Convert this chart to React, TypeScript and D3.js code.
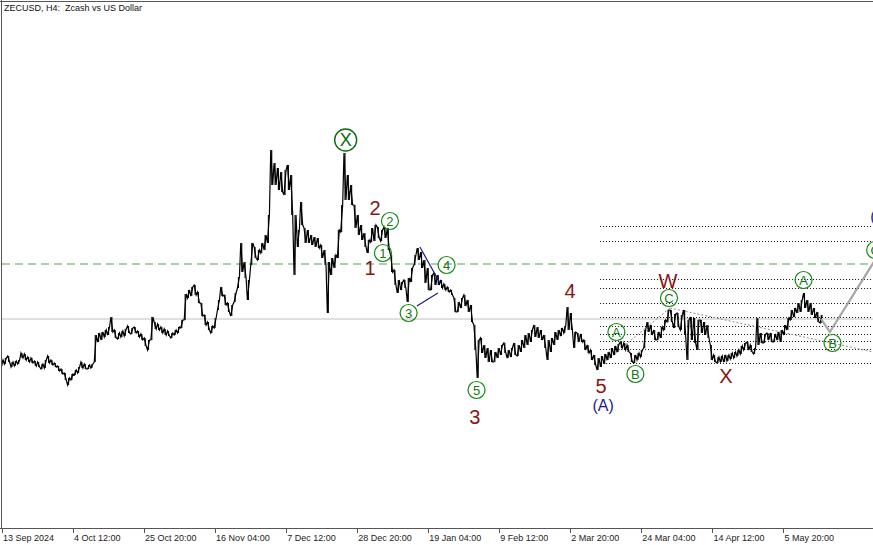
import * as d3 from 'd3';

const START = Date.UTC(2024, 8, 13, 4);
const DAY = 864e5;
const W = 873;
const H = 545;

const tickLabels = [
  '13 Sep 2024', '4 Oct 12:00', '25 Oct 20:00', '16 Nov 04:00', '7 Dec 12:00', '28 Dec 20:00',
  '19 Jan 04:00', '9 Feb 12:00', '2 Mar 20:00', '24 Mar 04:00', '14 Apr 12:00', '5 May 20:00'
];

const highs = [
  33.6, 34.0, 34.4, 33.2, 33.4, 33.6, 35.0, 34.8, 34.2, 34.0,
  33.4, 33.2, 32.8, 33.6, 34.4, 33.6, 33.0, 32.4, 31.8, 31.0,
  30.0, 30.8, 31.6, 32.2, 33.2, 32.8, 32.6, 32.8, 38.6, 39.0,
  39.2, 39.6, 40.2, 42.2, 39.6, 39.0, 39.4, 39.8, 40.4, 40.0,
  40.2, 39.4, 38.8, 38.0, 37.6, 42.2, 41.2, 40.8, 40.2, 39.8,
  39.4, 39.0, 39.6, 40.2, 41.6, 46.8, 47.6, 48.2, 48.6, 47.2,
  45.0, 42.6, 41.2, 40.4, 42.0, 45.6, 48.2, 46.6, 45.0, 44.6,
  47.0, 50.2, 57.0, 53.2, 49.6, 57.0, 56.2, 55.6, 57.0, 58.6,
  62.6, 75.6, 73.0, 72.0, 71.2, 71.6, 72.6, 70.6, 62.6, 59.6,
  65.2, 60.0, 59.6, 58.6, 58.2, 58.0, 56.6, 55.6, 53.2, 54.0,
  54.6, 59.6, 64.6, 75.0, 70.6, 68.6, 64.6, 62.6, 60.6, 59.0,
  57.6, 60.0, 60.6, 60.2, 59.6, 60.2, 60.0, 54.6, 51.6, 49.6,
  49.2, 49.6, 50.0, 52.0, 54.6, 56.0, 55.2, 53.6, 52.0, 50.6,
  51.0, 50.6, 49.6, 48.8, 48.2, 47.6, 46.0, 45.2, 46.0, 46.6,
  45.6, 44.6, 40.6, 37.6, 38.0, 36.6, 36.0, 35.6, 35.2, 36.0,
  36.6, 37.0, 35.6, 36.0, 37.0, 36.6, 37.6, 38.6, 39.0, 39.6,
  40.6, 40.2, 39.6, 38.6, 37.6, 38.0, 39.2, 39.6, 40.0, 40.4,
  44.2, 43.0, 39.2, 39.0, 38.8, 37.6, 36.6, 35.6, 34.6, 34.0,
  34.4, 34.8, 35.2, 36.0, 36.4, 36.8, 37.2, 37.0, 36.6, 35.0,
  34.6, 35.0, 35.6, 39.6, 41.2, 40.6, 39.6, 39.2, 40.2, 41.6,
  43.6, 43.6, 42.8, 43.0, 42.6, 43.6, 41.6, 42.2, 42.0, 41.6,
  41.6, 41.2, 40.6, 36.6, 34.6, 34.2, 34.4, 34.6, 34.6, 35.0,
  35.2, 35.6, 36.4, 37.0, 37.2, 36.6, 36.0, 42.0, 39.0, 38.8,
  39.0, 39.0, 38.8, 39.2, 39.6, 40.6, 42.0, 43.6, 44.0, 45.0,
  45.6, 47.0, 45.6, 45.0, 44.0, 43.2, 42.6
];

const lows = [
  32.4, 32.8, 33.2, 32.2, 32.4, 32.8, 34.0, 33.6, 33.2, 33.0,
  32.4, 32.2, 31.8, 32.0, 33.0, 32.6, 32.2, 31.4, 30.8, 29.6,
  28.6, 29.6, 30.6, 31.0, 32.0, 31.8, 31.8, 32.0, 33.2, 37.2,
  37.6, 38.2, 38.6, 39.2, 38.0, 37.8, 38.2, 38.4, 39.0, 38.8,
  39.0, 38.2, 37.6, 36.4, 35.6, 37.6, 39.8, 39.6, 39.0, 38.6,
  38.4, 38.0, 38.6, 39.0, 40.0, 41.6, 46.0, 46.4, 46.6, 45.0,
  42.4, 40.6, 39.6, 39.0, 40.0, 43.6, 46.4, 44.6, 43.2, 42.4,
  45.2, 48.0, 51.2, 50.0, 45.6, 52.6, 54.0, 53.6, 55.0, 55.6,
  57.0, 68.6, 68.6, 67.6, 67.2, 66.6, 67.6, 62.6, 50.6, 56.2,
  60.6, 57.0, 57.0, 56.6, 56.2, 56.0, 54.0, 52.6, 43.0, 50.6,
  52.0, 54.0, 59.2, 65.6, 65.6, 64.6, 60.0, 58.6, 57.6, 56.2,
  55.0, 57.2, 57.4, 58.0, 57.4, 58.0, 55.6, 51.2, 48.6, 47.0,
  47.6, 48.0, 45.2, 49.2, 52.6, 53.6, 52.0, 49.0, 47.6, 47.6,
  48.6, 48.6, 48.0, 47.6, 47.2, 46.6, 43.2, 43.2, 44.0, 44.4,
  43.2, 41.2, 35.6, 30.0, 35.0, 34.0, 33.2, 33.2, 33.2, 34.0,
  34.6, 35.0, 34.0, 34.2, 34.6, 34.4, 35.2, 36.0, 36.6, 37.2,
  38.2, 38.0, 37.6, 36.0, 33.6, 35.2, 36.6, 37.6, 38.4, 39.0,
  39.6, 39.6, 36.0, 37.2, 37.2, 35.6, 35.0, 33.6, 32.6, 31.6,
  32.2, 32.8, 33.6, 34.0, 34.6, 35.2, 36.0, 35.6, 35.2, 33.2,
  33.0, 33.6, 34.2, 36.0, 39.2, 38.6, 37.6, 37.6, 38.0, 39.6,
  41.2, 41.2, 40.0, 40.2, 39.6, 38.6, 33.6, 37.6, 37.0, 35.6,
  39.0, 38.6, 38.0, 33.6, 33.2, 33.0, 33.2, 33.2, 33.4, 33.8,
  34.0, 34.4, 34.8, 35.6, 35.6, 35.2, 34.8, 36.6, 37.0, 37.0,
  37.6, 37.2, 37.2, 37.6, 37.2, 38.6, 39.6, 41.6, 42.2, 43.0,
  43.2, 44.0, 43.2, 42.6, 42.0, 41.2, 41.0
];

// horizontal levels
const greenLevel = 52.8;
const bidLevel = 41.8;
const fibLevels = [60.4, 57.4, 49.8, 48.0, 45.0, 42.2, 40.4, 38.8, 37.4, 35.8, 33.0];
const fibStartDay = 179.6;

// projected path (grey)
const projDays = [246, 248.6, 263.7];
const projPrices = [41.8, 39.2, 55.2];

// dotted trend lines [day, price, day, price]
const trendLines = [
  [178.7, 32.0, 200.6, 44.0],
  [200.6, 44.0, 261.6, 35.2]
];
// blue triangle lines
const wedgeLines = [
  [125.5, 56.2, 131.5, 49.0],
  [124.6, 44.4, 130.9, 47.0]
];

// wave labels (day, price)
const redLabels = [
  { t: '2', d: 112.0, p: 64.0 },
  { t: '1', d: 110.5, p: 52.0 },
  { t: '3', d: 142.0, p: 22.2 },
  { t: '4', d: 170.6, p: 47.4 },
  { t: '5', d: 179.9, p: 28.4 },
  { t: 'W', d: 200.0, p: 49.4 },
  { t: 'X', d: 217.4, p: 30.4 }
];
const blueLabels = [
  { t: '(A)', d: 180.5, p: 24.6 },
  { t: '(B)', d: 263.9, p: 62.4 }
];
const circled = [
  { t: '1', d: 114.4, p: 55.0 },
  { t: '2', d: 116.5, p: 61.4 },
  { t: '3', d: 122.1, p: 43.0 },
  { t: '4', d: 133.5, p: 52.6 },
  { t: '5', d: 142.5, p: 27.6 },
  { t: 'A', d: 184.5, p: 39.2 },
  { t: 'B', d: 190.2, p: 30.8 },
  { t: 'C', d: 200.3, p: 46.0 },
  { t: 'A', d: 240.7, p: 49.6 },
  { t: 'B', d: 249.4, p: 37.0 },
  { t: 'C', d: 262.2, p: 55.6 }
];
const bigCircled = { t: 'X', d: 103.2, p: 77.6 };

const dayToDate = (d: number) => new Date(START + d * DAY);

export default function App() {
  const x = d3
    .scaleUtc()
    .domain([dayToDate(0), dayToDate(261.56)])
    .range([2, W]);
  const y = d3.scaleLinear().domain([0, 102.8]).range([528, 14]);
  const xd = (d: number) => x(dayToDate(d));

  // zigzag path through each day's range
  const pts: [number, number][] = [];
  highs.forEach((hi, i) => {
    const lo = lows[i];
    const mid = (hi + lo) / 2;
    const next = i < highs.length - 1 ? (highs[i + 1] + lows[i + 1]) / 2 : mid;
    const cx = xd(i);
    if (next >= mid) {
      pts.push([cx - 1, y(lo)], [cx + 1, y(hi)]);
    } else {
      pts.push([cx - 1, y(hi)], [cx + 1, y(lo)]);
    }
  });
  const line = d3.line();

  const proj = d3
    .line<number>()
    .x((_, i) => xd(projDays[i]))
    .y((p) => y(p));

  const tickDates = tickLabels.map((_, k) => new Date(START + k * 128 * 4 * 3600e3));

  const font = '"Liberation Sans", Arial, sans-serif';

  return (
    <svg
      width={W}
      height={H}
      style={{ position: 'absolute', left: 0, top: 0, background: '#fff' }}
      fontFamily={font}
    >
      <defs>
        <clipPath id='plot'>
          <rect x={2} y={2} width={W - 2} height={526} />
        </clipPath>
      </defs>
      <rect x={0} y={0} width={W} height={H} fill='#fff' />

      <g clipPath='url(#plot)'>
        {/* bid line */}
        <line x1={2} x2={W} y1={y(bidLevel)} y2={y(bidLevel)} stroke='#c0c0c0' strokeWidth={1} />
        {/* fib dotted levels */}
        {fibLevels.map((lv, i) => (
          <line
            key={i}
            x1={xd(fibStartDay)}
            x2={W}
            y1={Math.round(y(lv)) + 0.5}
            y2={Math.round(y(lv)) + 0.5}
            stroke='#111'
            strokeWidth={1}
            strokeDasharray='1,2'
          />
        ))}
        {/* green dashed level */}
        <line
          x1={2}
          x2={W}
          y1={y(greenLevel)}
          y2={y(greenLevel)}
          stroke='#4fa84f'
          strokeWidth={1.2}
          strokeDasharray='8,5'
        />
        {/* trend dotted lines */}
        {trendLines.map((l, i) => (
          <line
            key={i}
            x1={xd(l[0])}
            y1={y(l[1])}
            x2={xd(l[2])}
            y2={y(l[3])}
            stroke='#8a8a8a'
            strokeWidth={1}
            strokeDasharray='2,2'
          />
        ))}
        {/* price */}
        {highs.map((hi, i) => (
          <line key={i} x1={xd(i)} x2={xd(i)} y1={y(hi)} y2={y(lows[i])} stroke='#000' strokeWidth={1.1} />
        ))}
        <path d={line(pts) || ''} fill='none' stroke='#000' strokeWidth={1.2} strokeLinejoin='miter' />
        {/* wedge */}
        {wedgeLines.map((l, i) => (
          <line key={i} x1={xd(l[0])} y1={y(l[1])} x2={xd(l[2])} y2={y(l[3])} stroke='#1c1c80' strokeWidth={1.2} />
        ))}
        {/* projection */}
        <path d={proj(projPrices) || ''} fill='none' stroke='#a6a6a6' strokeWidth={2.2} />

        {/* labels */}
        {redLabels.map((l, i) => (
          <text
            key={i}
            x={xd(l.d)}
            y={y(l.p)}
            textAnchor='middle'
            dominantBaseline='central'
            fontSize={20}
            fill='#8b1414'
          >
            {l.t}
          </text>
        ))}
        {blueLabels.map((l, i) => (
          <text
            key={i}
            x={xd(l.d)}
            y={y(l.p)}
            textAnchor='middle'
            dominantBaseline='central'
            fontSize={16}
            fill='#1c1c8a'
          >
            {l.t}
          </text>
        ))}
        {circled.map((l, i) => (
          <g key={i} transform={`translate(${xd(l.d)},${y(l.p)})`}>
            <circle r={8.5} fill='none' stroke='#138a13' strokeWidth={1.2} />
            <text textAnchor='middle' dominantBaseline='central' fontSize={13} fill='#0f7a0f'>
              {l.t}
            </text>
          </g>
        ))}
        <g transform={`translate(${xd(bigCircled.d)},${y(bigCircled.p)})`}>
          <circle r={11} fill='none' stroke='#0d6b0d' strokeWidth={1.4} />
          <text textAnchor='middle' dominantBaseline='central' fontSize={18} fill='#0d6b0d'>
            {bigCircled.t}
          </text>
        </g>
      </g>

      {/* frame */}
      <line x1={1.5} x2={1.5} y1={0} y2={528} stroke='#555' />
      <line x1={0} x2={W} y1={1.5} y2={1.5} stroke='#555' />
      <line x1={0} x2={W} y1={528.5} y2={528.5} stroke='#555' />

      {/* time axis */}
      {tickDates.map((t, k) => (
        <g key={k}>
          <line x1={Math.round(x(t)) + 0.5} x2={Math.round(x(t)) + 0.5} y1={528} y2={533} stroke='#555' />
          <text x={x(t) + 1} y={541} fontSize={9} fill='#222'>
            {tickLabels[k]}
          </text>
        </g>
      ))}

      <text x={4} y={11} fontSize={9} fill='#111' style={{ whiteSpace: 'pre' }}>
        {'ZECUSD, H4:  Zcash vs US Dollar'}
      </text>
    </svg>
  );
}
